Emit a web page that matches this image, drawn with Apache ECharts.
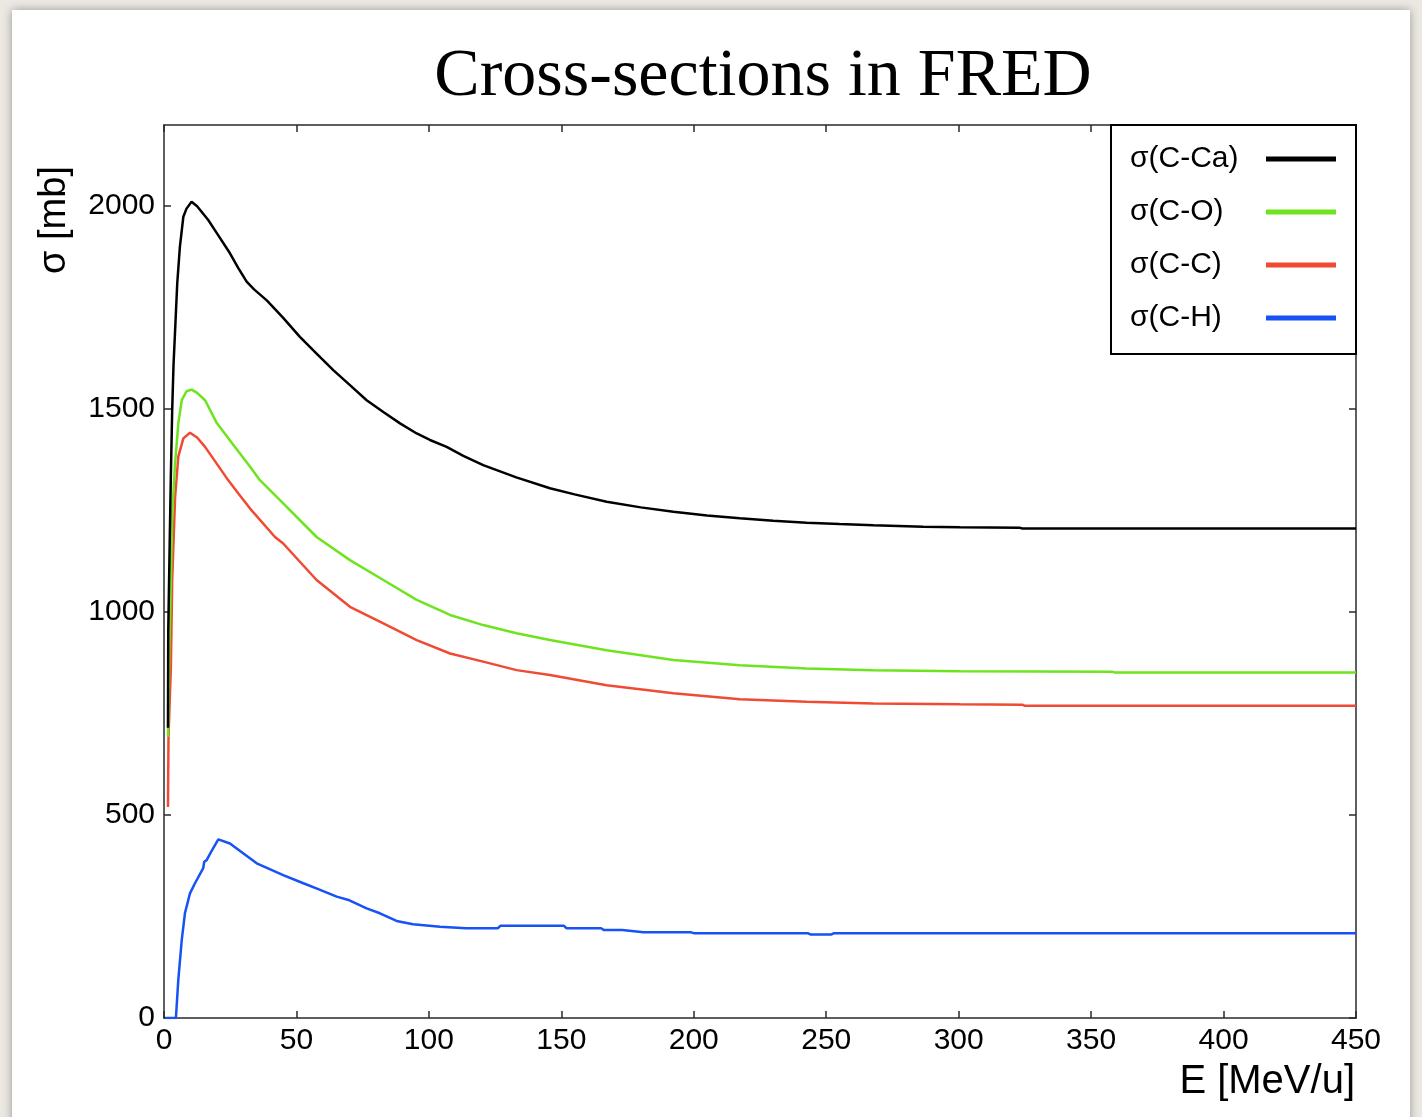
<!DOCTYPE html>
<html>
<head>
<meta charset="utf-8">
<title>Cross-sections in FRED</title>
<script src="https://cdn.jsdelivr.net/npm/echarts@6/dist/echarts.min.js"></script>
<style>
  html, body { margin: 0; padding: 0; width: 1422px; height: 1117px; overflow: hidden; background: #ece9e3; }
  #card { position: absolute; left: 12px; top: 10px; width: 1398px; height: 1140px; background: #ffffff;
          box-shadow: 0 0 9px rgba(0,0,0,0.35); }
  #chart { position: absolute; left: 0; top: 0; width: 1422px; height: 1117px; }
</style>
</head>
<body>
<div id="card"></div>
<div id="chart"></div>
<script>
// Energy grid [MeV/u] and total cross-section [mb] for each target
const energyCa = [1.5, 1.6, 2.2, 2.6, 3.1, 3.6, 4.2, 5.0, 6.0, 7.3, 8.5, 10.4, 12.5, 16.7, 20, 24.9, 28, 31.2, 34, 38.8, 45, 51.3, 57.6, 63.9, 70.2, 76.5, 82.8, 89.1, 95.4, 100.4, 106.7, 113, 120.5, 133, 145.7, 155, 167.1, 180, 192.3, 205, 217.4, 230, 242.6, 255, 267.8, 286.6, 300.5, 323, 324, 450];
const sigmaCa  = [715, 950, 1190, 1340, 1500, 1610, 1695, 1810, 1900, 1974, 1994, 2011, 2000, 1966, 1933, 1884, 1848, 1814, 1795, 1768, 1725, 1678, 1637, 1596, 1559, 1522, 1493, 1465, 1440, 1424, 1407, 1385, 1362, 1332, 1305, 1290, 1272, 1258, 1247, 1238, 1231, 1225, 1220, 1217, 1214, 1210, 1209, 1208, 1206, 1206];

const energyO = [1.5, 2.0, 2.6, 3.1, 4.2, 5.4, 6.7, 8.5, 10.4, 12.5, 15.5, 20, 27, 32.5, 36.2, 45, 57.6, 70.2, 82.8, 95.4, 108, 120.5, 133.1, 145.7, 167.1, 192.3, 217.4, 242.6, 267.8, 300.5, 358, 359, 450];
const sigmaO  = [693, 900, 1079, 1244, 1367, 1465, 1522, 1544, 1548, 1540, 1522, 1465, 1405, 1358, 1325, 1268, 1185, 1128, 1079, 1030, 993, 968, 948, 931, 906, 882, 869, 861, 857, 854, 853, 851, 851];

const energyC = [1.5, 1.7, 2.6, 3.1, 4.2, 5.4, 7.3, 9.8, 12.5, 15.5, 23.7, 28, 32.5, 41.9, 45, 57.6, 70.2, 82.8, 95.4, 108, 120.5, 133.1, 145.7, 167.1, 192.3, 217.4, 242.6, 267.8, 300.5, 324, 325, 450];
const sigmaC  = [520, 693, 865, 1079, 1284, 1383, 1428, 1442, 1430, 1407, 1330, 1293, 1255, 1185, 1169, 1079, 1013, 972, 931, 898, 878, 857, 845, 820, 800, 785, 779, 775, 773, 772, 769, 769];

const energyH = [0.4, 4.5, 5.4, 6.7, 7.9, 9.8, 11.7, 14.8, 15.2, 16.1, 18, 20.5, 24.9, 30, 35, 45, 52.6, 58, 65.2, 70, 76.5, 81.5, 87.8, 94, 104.2, 114, 126, 127, 151, 152, 165, 166, 173, 181, 199, 200, 243, 244, 252, 253, 450];
const sigmaH  = [0, 0, 94, 192, 258, 307, 332, 369, 385, 389, 412, 440, 430, 405, 381, 352, 332, 318, 299, 290, 270, 258, 239, 231, 225, 221, 221, 227, 227, 221, 221, 217, 217, 211, 211, 209, 209, 206, 206, 209, 209];

const seriesNames = ['σ(C-Ca)', 'σ(C-O)', 'σ(C-C)', 'σ(C-H)'];
const seriesColors = ['#000000', '#6ee41e', '#f04b32', '#1652f5'];

const zip = (xs, ys) => xs.map((x, i) => [x, ys[i]]);
const curves = [zip(energyCa, sigmaCa), zip(energyO, sigmaO), zip(energyC, sigmaC), zip(energyH, sigmaH)];

const FONT = 'Liberation Sans, Arial, Helvetica, sans-serif';
const frame = { show: true, onZero: false, lineStyle: { color: '#2a2a2a', width: 1.5 } };
const ticks = { show: true, inside: true, length: 7, lineStyle: { color: '#2a2a2a', width: 1.5 } };
const plain = v => String(v);

const chart = echarts.init(document.getElementById('chart'), null, { renderer: 'canvas' });

chart.setOption({
  animation: false,
  backgroundColor: 'transparent',
  title: {
    text: 'Cross-sections in FRED',
    left: 763,
    top: 43,
    padding: 0,
    textAlign: 'center',
    textStyle: { fontFamily: 'Liberation Serif, Times New Roman, serif', fontSize: 68, fontWeight: 'normal', color: '#000' }
  },
  grid: { left: 164, right: 66, top: 125, bottom: 99, outerBoundsMode: 'none' },
  legend: {
    orient: 'vertical',
    right: 66,
    top: 125,
    align: 'right',
    icon: 'rect',
    itemWidth: 70,
    itemHeight: 5,
    itemGap: 23,
    padding: [19, 20, 21, 19],
    borderColor: '#000',
    borderWidth: 2,
    backgroundColor: '#fff',
    data: seriesNames,
    formatter: name => '{n|' + name + '}',
    textStyle: {
      fontFamily: FONT, fontSize: 30, color: '#000', lineHeight: 30,
      rich: { n: { width: 131, align: 'left', fontFamily: FONT, fontSize: 30, color: '#000', lineHeight: 30 } }
    }
  },
  xAxis: [
    {
      type: 'value', position: 'bottom', min: 0, max: 450, interval: 50,
      axisLine: frame, axisTick: ticks, splitLine: { show: false },
      axisLabel: { fontFamily: FONT, fontSize: 30, color: '#000', margin: 8, formatter: plain, showMinLabel: true, showMaxLabel: true }
    },
    {
      type: 'value', position: 'top', min: 0, max: 450, interval: 50,
      axisLine: frame, axisTick: ticks, splitLine: { show: false }, axisLabel: { show: false }
    }
  ],
  yAxis: [
    {
      type: 'value', position: 'left', min: 0, max: 2200, interval: 500,
      axisLine: frame, axisTick: ticks, splitLine: { show: false },
      axisLabel: { fontFamily: FONT, fontSize: 30, color: '#000', margin: 9, formatter: plain, showMaxLabel: false }
    },
    {
      type: 'value', position: 'right', min: 0, max: 2200, interval: 500,
      axisLine: frame, axisTick: ticks, splitLine: { show: false }, axisLabel: { show: false }
    }
  ],
  graphic: [
    {
      type: 'text', x: 55, y: 220, rotation: Math.PI / 2,
      style: { text: 'σ [mb]', font: '38px ' + FONT, fill: '#000', textAlign: 'center', textVerticalAlign: 'middle' }
    },
    {
      type: 'text', x: 1355, y: 1082,
      style: { text: 'E [MeV/u]', font: '40px ' + FONT, fill: '#000', textAlign: 'right', textVerticalAlign: 'middle' }
    }
  ],
  series: curves.map((data, i) => ({
    name: seriesNames[i],
    type: 'line',
    xAxisIndex: 0,
    yAxisIndex: 0,
    data: data,
    showSymbol: false,
    symbol: 'none',
    smooth: false,
    clip: true,
    lineStyle: { color: seriesColors[i], width: 2.5 },
    itemStyle: { color: seriesColors[i] },
    z: 4 - i
  }))
});
</script>
</body>
</html>
